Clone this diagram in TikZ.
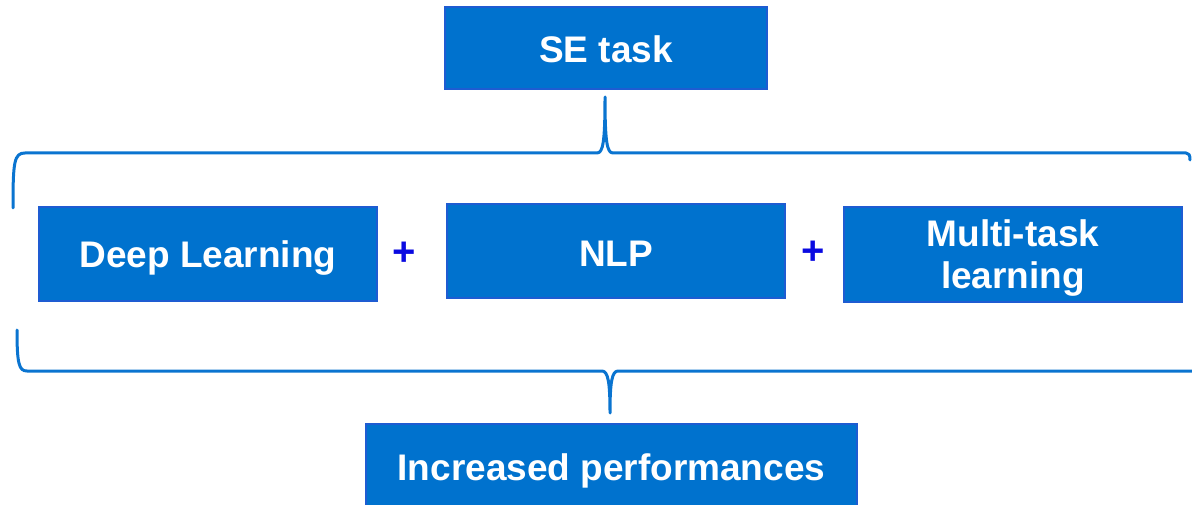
\documentclass[tikz,border=0pt]{standalone}
\usepackage{fontspec}
\setmainfont{Liberation Sans}
\definecolor{boxfill}{RGB}{0,114,206}
\definecolor{boxedge}{RGB}{30,92,210}
\definecolor{bracecol}{RGB}{10,116,208}
\definecolor{pluscol}{RGB}{10,10,225}
\tikzset{
  bluebox/.style={draw=boxedge, line width=1.5pt, fill=boxfill, text=white,
    inner sep=0pt, align=center,
    font=\bfseries\fontsize{37}{41.6}\selectfont},
  plussign/.style={text=pluscol, inner sep=0pt,
    font=\bfseries\fontsize{40}{40}\selectfont},
  bracket/.style={draw=bracecol, line width=3pt, line cap=round, line join=round}
}
\begin{document}
\begin{tikzpicture}[x=1pt, y=-1pt]
\useasboundingbox (0,0) rectangle (1192,505);

% boxes; text height/depth place the baseline inside each box
\node[bluebox, minimum width=322pt, minimum height=82pt,
      text height=32pt, text depth=3pt] (se) at (606,48) {SE task};
\node[bluebox, minimum width=338pt, minimum height=94pt,
      text height=32pt, text depth=4pt] (dl) at (208,254) {Deep Learning};
\node[bluebox, minimum width=338pt, minimum height=94pt,
      text height=33pt, text depth=3pt] (nlp) at (616,251) {NLP};
\node[bluebox, minimum width=338pt, minimum height=95pt] (mtl) at (1013,254.5)
  {\raisebox{0pt}[20pt][35.6pt]{\begin{tabular}[t]{@{}c@{}}Multi-task\\learning\end{tabular}}};
\node[bluebox, minimum width=491pt, minimum height=90pt,
      text height=28pt, text depth=6pt] (inc) at (611.5,469) {Increased performances};

% plus signs between the ingredients
\node[plussign] (p1) at (404.5,254) {+};
\node[plussign] (p2) at (813,253) {+};

% upper brace, tip pointing to the task
\coordinate (ttip) at (605,97);
\draw[bracket] (13,208) .. controls (13,162) and (14,153) .. (25,153)
  -- (597,153) .. controls (603,153) and (605,142) .. (ttip)
  .. controls (605,142) and (607,153) .. (613,153)
  -- (1186,153) .. controls (1189,153) and (1190,155) .. (1190,160);

% lower brace, tip pointing to the result
\coordinate (btip) at (610,413);
\draw[bracket] (17,330) .. controls (17,364) and (19,371) .. (27,371)
  -- (602,371) .. controls (608,371) and (610,382) .. (btip)
  .. controls (610,382) and (612,371) .. (618,371)
  -- (1194,371);
\end{tikzpicture}
\end{document}
